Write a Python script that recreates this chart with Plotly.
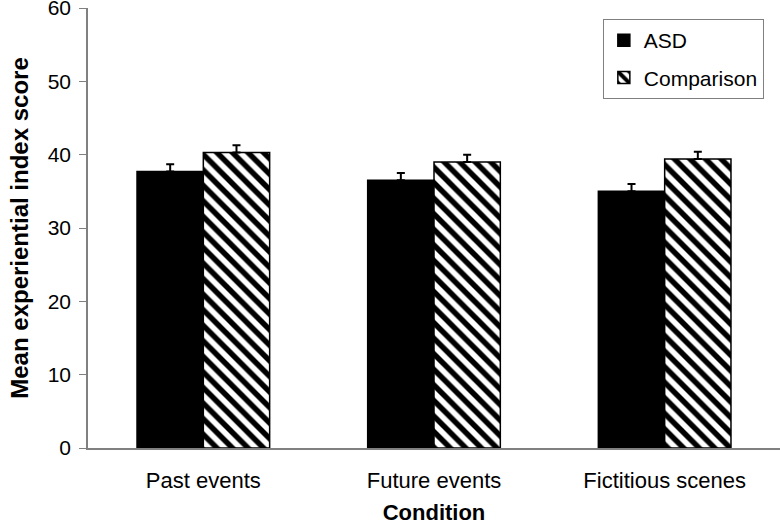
import plotly.graph_objects as go

categories = ["Past events", "Future events", "Fictitious scenes"]
asd_values = [37.7, 36.5, 35.0]
asd_errors = [1.0, 1.0, 1.0]
comp_values = [40.3, 39.0, 39.4]
comp_errors = [1.0, 1.0, 1.0]
zero_errors = [0, 0, 0]
y_ticks = [0, 10, 20, 30, 40, 50, 60]

font_family = "Liberation Sans, Arial, sans-serif"

fig = go.Figure()
fig.add_trace(go.Bar(
    name="ASD", x=categories, y=asd_values, legendgroup="a",
    marker=dict(color="black", line=dict(color="black", width=1.5)),
    error_y=dict(type="data", symmetric=False, array=asd_errors, arrayminus=zero_errors,
                 visible=True, color="black", thickness=2, width=4),
))
fig.add_trace(go.Bar(
    name="Comparison", x=categories, y=comp_values, legendgroup="b",
    marker=dict(color="white", line=dict(color="black", width=1.5),
                pattern=dict(shape="\\", fgcolor="black", bgcolor="white",
                             fgopacity=1, fillmode="replace",
                             size=11, solidity=0.5)),
    error_y=dict(type="data", symmetric=False, array=comp_errors, arrayminus=zero_errors,
                 visible=True, color="black", thickness=2, width=4),
))

fig.update_layout(
    width=780, height=525,
    margin=dict(l=88, r=0, t=8, b=77, autoexpand=False),
    plot_bgcolor="white", paper_bgcolor="white",
    barmode="group", bargap=0.425, bargroupgap=0,
    font=dict(family=font_family, size=22, color="black"),
    showlegend=True,
    legend=dict(x=0.744, y=0.975, xanchor="left", yanchor="top",
                bordercolor="#808080", borderwidth=1, bgcolor="white",
                font=dict(size=21), traceorder="grouped", tracegroupgap=7,
                itemwidth=30),
    xaxis=dict(showline=True, linecolor="#808080", linewidth=1.5,
               ticks="", tickfont=dict(size=22), ticklabelstandoff=12,
               automargin=False,
               title=dict(text="<b>Condition</b>", font=dict(size=22), standoff=12)),
    yaxis=dict(range=[0, 60], tickvals=y_ticks, showline=True, linecolor="#808080",
               linewidth=1.5, ticks="outside", ticklen=7, tickcolor="#808080",
               showgrid=False, zeroline=False, tickfont=dict(size=21),
               ticklabelstandoff=4, ticklabeloverflow="allow", automargin=False,
               title=dict(text="<b>Mean experiential index score</b>", font=dict(size=24),
                          standoff=12)),
)

fig.write_html("out.html", config={"displayModeBar": False},
               post_script="document.body.style.margin='0';")
